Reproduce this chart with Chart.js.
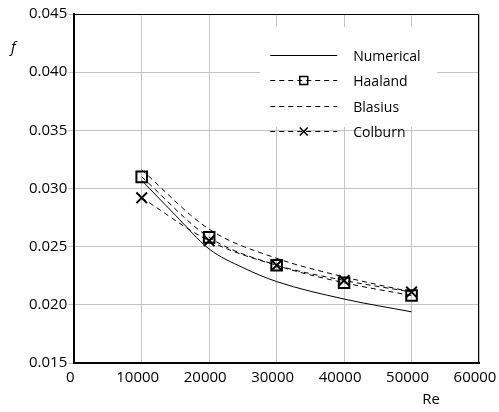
<!DOCTYPE html>
<html>
<head>
<meta charset="utf-8">
<script src="https://cdn.jsdelivr.net/npm/chart.js@4/dist/chart.umd.min.js"></script>
<style>
  html, body { margin: 0; padding: 0; background: #fff; }
  #wrap { width: 499px; height: 412px; }
</style>
</head>
<body>
<div id="wrap"><canvas id="frictionChart" width="499" height="412"></canvas></div>
<script>
// Friction factor vs Reynolds number
const reValues = [10000, 20000, 30000, 40000, 50000];
const haaland = [0.0310, 0.0258, 0.0234, 0.0219, 0.0208];
const blasius = [0.0316, 0.0265, 0.0240, 0.0224, 0.0211];
const colburn = [0.0292, 0.0255, 0.0234, 0.0221, 0.0211];

const numericalRe = [10000, 15000, 20000, 25000, 30000, 40000, 50000];
const numerical = [0.0307, 0.0277, 0.0248, 0.0232, 0.0220, 0.0205, 0.0194];

const xTicks = [0, 10000, 20000, 30000, 40000, 50000, 60000];
const yTicks = [0.015, 0.020, 0.025, 0.030, 0.035, 0.040, 0.045];

const FONT = "'Open Sans', 'DejaVu Sans', sans-serif";
const GRID = "#c4c4c4";

function toPoints(xs, ys) {
  return xs.map((x, i) => ({ x: x, y: ys[i] }));
}

// Top and right frame lines
const framePlugin = {
  id: "frame",
  afterDraw(chart) {
    const { ctx, chartArea: a } = chart;
    ctx.save();
    ctx.strokeStyle = "#000";
    ctx.lineWidth = 1;
    ctx.beginPath();
    ctx.moveTo(a.left, a.top + 0.5);
    ctx.lineTo(a.right - 0.5, a.top + 0.5);
    ctx.lineTo(a.right - 0.5, a.bottom);
    ctx.stroke();
    ctx.restore();
  },
};

// Axis titles: upright italic "f" at the top left, "Re" under the x labels
const titlePlugin = {
  id: "axisTitles",
  afterDraw(chart) {
    const { ctx, chartArea: a } = chart;
    ctx.save();
    ctx.fillStyle = "#000";
    ctx.textAlign = "center";
    ctx.textBaseline = "middle";
    ctx.font = "italic 15px " + FONT;
    ctx.fillText("f", a.left - 61, a.top + 34);
    ctx.font = "15px " + FONT;
    ctx.fillText("Re", a.right - 48, a.bottom + 37);
    ctx.restore();
  },
};

// Legend box inside the plot, over the grid
const legendPlugin = {
  id: "insideLegend",
  beforeDatasetsDraw(chart) {
    const { ctx, chartArea: a } = chart;
    const left = a.left + 186;
    const top = a.top + 13;
    ctx.save();
    ctx.fillStyle = "#fff";
    ctx.fillRect(left, top, 177, 100);

    chart.data.datasets.forEach((ds, i) => {
      const y = top + 28 + i * 25.3;
      const x0 = left + 10;
      const x1 = left + 77;
      ctx.strokeStyle = ds.borderColor;
      ctx.lineWidth = ds.borderWidth;
      ctx.setLineDash(ds.borderDash || []);
      ctx.beginPath();
      ctx.moveTo(x0, Math.round(y) + 0.5);
      ctx.lineTo(x1, Math.round(y) + 0.5);
      ctx.stroke();
      ctx.setLineDash([]);
      if (ds.pointRadius > 0) {
        ctx.strokeStyle = ds.pointBorderColor;
        ctx.fillStyle = ds.pointBackgroundColor;
        ctx.lineWidth = 1.5;
        Chart.helpers.drawPoint(ctx, {
          pointStyle: ds.pointStyle,
          radius: ds.pointRadius * 0.75,
          rotation: 0,
          borderWidth: 1.5,
        }, (x0 + x1) / 2, Math.round(y) + 0.5);
      }
      ctx.fillStyle = "#000";
      ctx.font = "14px " + FONT;
      ctx.textAlign = "left";
      ctx.textBaseline = "middle";
      ctx.fillText(ds.label, left + 93, y + 2);
    });
    ctx.restore();
  },
};

new Chart(document.getElementById("frictionChart"), {
  type: "line",
  data: {
    datasets: [
      {
        label: "Numerical",
        data: toPoints(numericalRe, numerical),
        borderColor: "#000",
        borderWidth: 1,
        pointRadius: 0,
        cubicInterpolationMode: "monotone",
      },
      {
        label: "Haaland",
        data: toPoints(reValues, haaland),
        borderColor: "#000",
        borderWidth: 1,
        borderDash: [5, 4],
        pointStyle: "rect",
        pointRadius: 7.5,
        pointBorderWidth: 2,
        pointBorderColor: "#000",
        pointBackgroundColor: "rgba(255,255,255,0)",
        cubicInterpolationMode: "monotone",
      },
      {
        label: "Blasius",
        data: toPoints(reValues, blasius),
        borderColor: "#000",
        borderWidth: 1,
        borderDash: [5, 4],
        pointRadius: 0,
        cubicInterpolationMode: "monotone",
      },
      {
        label: "Colburn",
        data: toPoints(reValues, colburn),
        borderColor: "#000",
        borderWidth: 1,
        borderDash: [5, 4],
        pointStyle: "crossRot",
        pointRadius: 7.5,
        pointBorderWidth: 2,
        pointBorderColor: "#000",
        pointBackgroundColor: "rgba(255,255,255,0)",
        cubicInterpolationMode: "monotone",
      },
    ],
  },
  options: {
    responsive: false,
    animation: false,
    events: [],
    layout: { padding: { top: 14, right: 20, bottom: 19, left: 28 } },
    plugins: {
      legend: { display: false },
      tooltip: { enabled: false },
    },
    scales: {
      x: {
        type: "linear",
        min: xTicks[0],
        max: xTicks[xTicks.length - 1],
        afterBuildTicks: (scale) => {
          scale.ticks = xTicks.map((v) => ({ value: v }));
        },
        // the last label may run into the right margin
        afterFit: (scale) => {
          scale.paddingRight = 0;
        },
        ticks: {
          color: "#000",
          font: { family: FONT, size: 15 },
          padding: 6,
          labelOffset: -4,
          maxRotation: 0,
          callback: (v) => String(v),
        },
        grid: { color: GRID, lineWidth: 1, drawTicks: false },
        border: { color: "#000", width: 2 },
      },
      y: {
        min: yTicks[0],
        max: yTicks[yTicks.length - 1],
        afterBuildTicks: (scale) => {
          scale.ticks = yTicks.map((v) => ({ value: v }));
        },
        ticks: {
          color: "#000",
          font: { family: FONT, size: 15 },
          padding: 1,
          callback: (v) => v.toFixed(3),
        },
        grid: { color: GRID, lineWidth: 1, tickLength: 6, tickColor: GRID },
        border: { color: "#000", width: 2 },
      },
    },
  },
  plugins: [framePlugin, titlePlugin, legendPlugin],
});
</script>
</body>
</html>
